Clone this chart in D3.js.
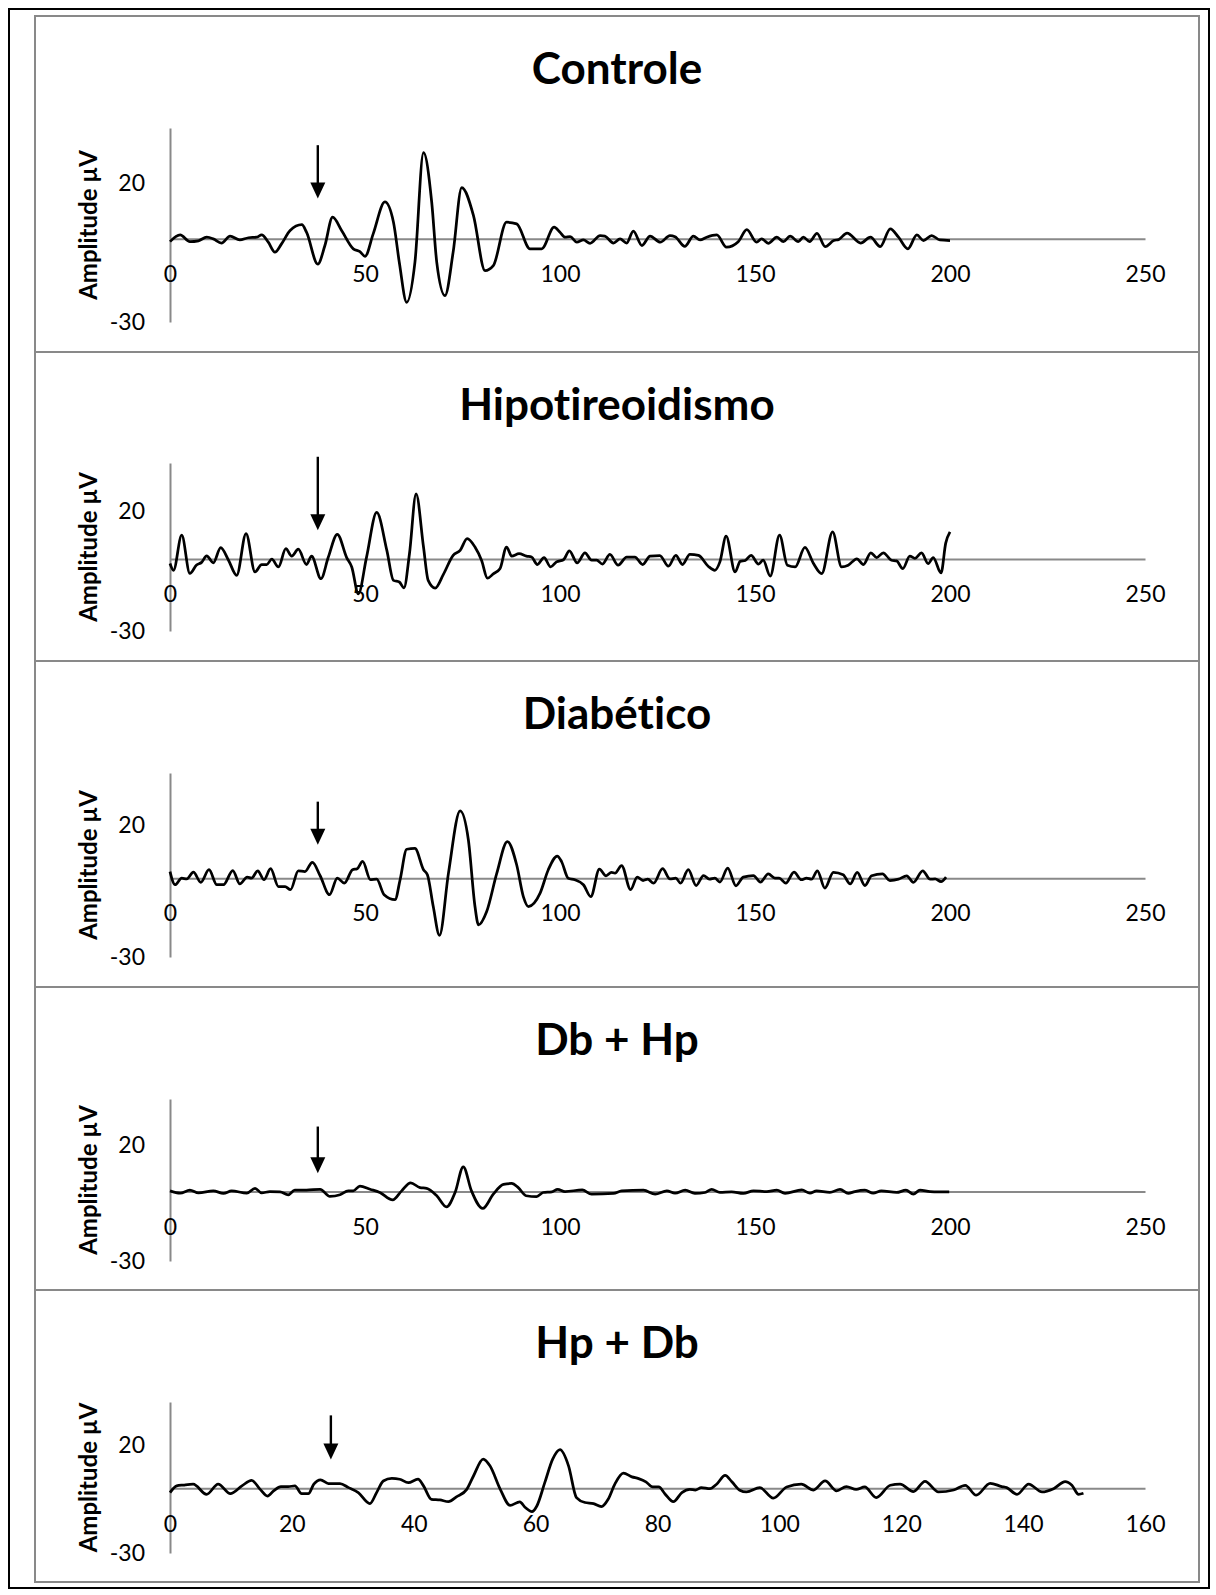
<!DOCTYPE html>
<html>
<head>
<meta charset="utf-8">
<script src="https://cdn.jsdelivr.net/npm/d3@7"></script>
<style>
	body { margin: 0; background: #fff; }
	text { font-family: Lato, 'Open Sans', sans-serif; font-variant-ligatures: none; font-feature-settings: 'liga' 0, 'clig' 0; }
</style>
</head>
<body>
<svg id="chart"></svg>
<script>
(function(d3){
	'use strict';

	// panel titles and axis ticks
	var titles = ['Controle', 'Hipotireoidismo', 'Diabético', 'Db + Hp', 'Hp + Db'];
	var xTicksLong = [0, 50, 100, 150, 200, 250];
	var xTicksShort = [0, 20, 40, 60, 80, 100, 120, 140, 160];
	var yTicks = [-30, 20];

	// traces: [time, amplitude µV]
	var controle = [[0,-1.0],[2.6,1.4],[5.1,-1.0],[7.3,-0.7],[9.4,0.6],[11.1,0],[13.2,-1.5],[15.4,1.0],[17.9,-0.4],[20.1,0.4],[22.2,0.6],[23.5,1.4],[25.2,-1.2],[26.9,-4.8],[28.6,-1.8],[30.8,3.0],[33.8,5.1],[35.0,2.4],[37.9,-9.1],[39.7,-2.5],[41.7,7.8],[44.0,3.0],[47.0,-3.6],[48.7,-4.6],[50.0,-6.3],[52.1,1.8],[55.1,13.3],[57.3,6.0],[58.8,-8.5],[60.7,-22.9],[62.8,-8.5],[65.0,31.1],[67.1,13.3],[68.4,-8.5],[70.5,-20.5],[72.6,-4.8],[74.8,18.5],[77.8,8.5],[80.8,-11.5],[82.9,-9.7],[86.3,6.0],[88.9,5.4],[92.3,-3.6],[95.3,-3.6],[98.5,4.2],[100.0,2.4],[101.3,0.6],[102.6,0.8],[104.3,-1.2],[106.0,-0.4],[107.7,-1.6],[110.3,1.2],[111.5,1.0],[113.7,-1.5],[115.4,0],[117.1,-1.5],[118.8,2.8],[121.0,-2.4],[123.1,1.0],[125.7,-1.2],[128.2,1.2],[129.5,0.8],[132.0,-2.7],[134.2,1.0],[135.9,-0.4],[137.6,0.6],[140.2,1.4],[142.7,-3.0],[145.7,-1.0],[147.9,3.3],[150.4,-1.2],[151.7,0],[153.4,-1.6],[155.6,0.6],[157.3,-1.0],[159.0,1.0],[161.1,-1.0],[162.4,0.6],[164.0,-1.0],[165.9,2.0],[168.0,-2.8],[170.2,-0.6],[171.5,-0.2],[173.6,2.1],[177.1,-1.5],[179.6,0.6],[182.1,-2.8],[184.7,3.6],[186.8,0.6],[189.2,-3.6],[191.5,1.4],[193.2,-0.6],[195.3,1.2],[197.4,-0.4],[200.0,-0.6]];
	var hipo = [[0,-1.9],[0.9,-4.7],[3.0,9.9],[5.1,-6.0],[6.8,-2.5],[8.1,-1.4],[9.4,1.3],[11.1,-1.6],[13.0,4.7],[15.0,-0.5],[17.1,-6.8],[19.5,10.6],[21.8,-5.4],[23.5,-2.3],[24.8,-2.3],[26.1,-0.1],[27.8,-3.3],[29.7,4.3],[31.2,1.2],[32.9,4.1],[35.0,-2.3],[36.3,1.2],[38.7,-8.2],[40.6,0.8],[42.9,10.3],[45.3,0.6],[46.6,-3.3],[48.3,-14.5],[50.4,0.8],[53.0,19.4],[55.6,3.6],[57.3,-8.9],[58.8,-9.6],[60.0,-12.0],[61.4,2.2],[63.1,27.1],[65.0,5.0],[66.2,-8.9],[68.0,-12.1],[70.1,-6.4],[72.6,1.5],[74.4,3.6],[76.2,8.5],[78.2,5.0],[79.9,-0.6],[81.4,-8.0],[82.9,-6.2],[84.6,-4.1],[86.3,5.0],[87.6,1.2],[89.5,2.2],[91.4,1.2],[92.7,0.8],[94.2,-2.3],[95.9,0.6],[97.6,-3.3],[99.1,-1.2],[100.9,-0.3],[102.4,3.4],[104.4,-1.6],[106.4,2.6],[108.1,-0.5],[109.4,-0.5],[110.9,-2.1],[112.8,1.9],[114.9,-2.6],[117.1,0.8],[119.2,0.8],[121.2,-2.3],[123.1,1.2],[125.6,1.4],[127.8,-3.0],[129.7,1.5],[131.4,-2.3],[133.3,1.9],[135.5,1.5],[138.0,-3.0],[139.7,-4.7],[141.0,-1.2],[142.6,9.5],[144.9,-5.4],[146.2,-1.0],[147.5,-0.6],[149.0,1.5],[150.9,-2.1],[152.1,-0.5],[153.9,-7.1],[156.3,9.9],[158.3,-2.6],[160.3,-3.3],[162.8,4.8],[165.0,-1.9],[167.1,-6.1],[169.9,11.3],[172.2,-3.3],[173.9,-2.6],[176.1,0.1],[177.8,-2.3],[179.7,2.6],[181.2,0.6],[182.9,2.6],[185.0,-0.5],[186.3,-0.8],[187.9,-4.0],[189.7,1.2],[191.0,0.3],[192.7,2.6],[194.4,-1.9],[195.7,0.6],[197.7,-5.8],[198.9,6.6],[200.0,11.3]];
	var diabetico = [[0,2.5],[1.3,-2.5],[3.0,0],[4.3,-0.3],[6.0,2.3],[7.9,-1.6],[10.0,3.2],[12.0,-2.5],[13.7,-2.5],[16.1,2.9],[17.9,-2.2],[19.8,0.4],[20.9,0],[22.5,2.8],[24.1,-0.6],[25.8,3.6],[27.8,-3.2],[29.5,-3.2],[30.9,-4.4],[32.9,2.8],[34.6,2.5],[36.5,6.0],[38.5,0.9],[40.9,-6.3],[42.9,0],[44.7,-1.9],[46.8,3.2],[48.0,3.6],[49.4,6.4],[51.4,-0.6],[53.0,-0.4],[54.9,-6.3],[57.7,-8.2],[59.0,-0.6],[60.7,11.0],[62.8,11.3],[65.0,3.2],[66.0,1.3],[67.5,-10.8],[69.1,-21.8],[71.4,1.9],[74.4,25.6],[76.5,14.6],[78.2,-10.8],[79.1,-17.8],[81.2,-12.7],[83.8,1.9],[86.5,13.9],[88.9,5.0],[90.6,-7.0],[91.9,-10.8],[94.9,-5.7],[97.0,3.2],[99.3,8.4],[100.4,6.3],[102.1,0],[103.8,-0.6],[106.0,-2.5],[107.9,-7.0],[110.1,3.4],[111.8,0.9],[113.2,2.2],[114.1,1.9],[115.8,4.8],[118.1,-4.4],[119.8,0.4],[121.3,-0.9],[122.5,-0.4],[124.0,-1.9],[126.3,3.6],[128.2,-0.3],[129.7,0],[130.9,-1.9],[132.9,3.2],[134.9,-2.8],[136.8,1.0],[138.3,-0.4],[139.7,0],[141.0,-1.5],[143.0,3.8],[145.1,-2.9],[147.0,0.4],[149.6,1.0],[151.4,-1.5],[153.4,1.6],[155.1,0],[156.2,0],[157.9,-1.9],[160.0,2.3],[161.9,-0.6],[163.2,0],[164.5,-0.4],[166.0,2.8],[167.9,-3.8],[170.1,2.2],[172.6,1.3],[174.4,-2.2],[176.2,2.2],[178.2,-2.8],[179.9,0.9],[182.7,1.6],[184.6,-0.9],[186.8,-0.4],[188.9,0.9],[190.6,-1.6],[193.0,2.8],[194.9,-0.4],[196.2,-0.3],[197.7,-1.3],[199.0,0.4]];
	var dbHp = [[0,0.3],[2.6,-0.7],[5.1,0.6],[7.3,-0.6],[11.1,0.3],[13.7,-0.8],[15.8,0.3],[19.7,-0.7],[21.8,1.4],[23.5,-0.6],[25.6,0],[28.2,-0.1],[30.3,-1.4],[32.0,0.6],[35.0,0.6],[38.5,1.0],[41.0,-2.1],[43.6,-1.4],[45.7,0.3],[47.0,0.3],[48.7,2.4],[51.3,1.0],[53.8,-0.4],[57.1,-3.6],[59.4,0.3],[61.7,3.8],[64.1,1.7],[65.8,1.4],[68.4,-1.8],[70.9,-6.6],[73.1,-0.4],[75.2,10.7],[77.3,0.3],[80.2,-7.3],[82.9,-1.1],[85.5,3.1],[87.6,3.5],[89.3,1.7],[91.3,-1.8],[94.0,-2.2],[95.7,-0.4],[97.9,-0.1],[99.4,1.0],[101.3,0],[105.7,0.7],[108.1,-1.1],[113.7,-0.8],[115.8,0.3],[121.4,0.6],[124.4,-1.1],[127.4,0.3],[129.5,-0.7],[132.1,0.6],[134.6,-0.8],[137.2,-0.4],[138.9,1.0],[141.0,-0.4],[144.0,-0.1],[147.0,-0.8],[149.6,0.3],[153.0,0],[155.6,0.6],[157.7,-0.8],[162.0,0.7],[164.1,-0.7],[165.8,0.3],[169.2,-0.4],[171.8,1.0],[173.9,-0.8],[175.6,0],[178.2,0.6],[180.3,-0.7],[182.4,0.3],[186.3,-0.4],[188.7,0.6],[190.6,-1.1],[192.3,0.6],[194.9,0],[197.0,-0.1],[199.8,-0.1]];
	var hpDb = [[0,-2.0],[1.1,1.1],[2.2,1.5],[3.8,1.9],[6.0,-2.8],[7.9,1.9],[9.9,-2.5],[11.8,1.1],[13.4,3.7],[14.8,-0.5],[16.0,-3.6],[17.0,-1.2],[18.2,0.8],[19.4,0.8],[20.5,1.1],[21.6,-2.5],[22.7,-2.5],[23.6,1.9],[24.7,3.9],[26.0,2.2],[27.9,2.2],[29.3,0.3],[30.9,-2.0],[32.8,-7.1],[33.9,-2.0],[35.0,3.4],[36.4,4.6],[37.7,4.2],[39.1,2.6],[40.7,4.2],[41.6,1.1],[42.9,-5.1],[44.3,-5.4],[45.7,-6.2],[47.0,-4.0],[48.7,-0.5],[49.8,5.7],[51.4,13.5],[52.5,10.4],[54.2,-0.5],[55.8,-7.9],[57.4,-6.3],[58.3,-8.9],[59.4,-10.8],[60.2,-8.2],[61.5,2.6],[62.8,13.5],[64.0,17.9],[65.4,10.4],[66.7,-4.3],[68.1,-6.6],[69.5,-7.1],[70.8,-8.5],[71.9,-5.1],[73.0,1.9],[74.4,7.0],[75.8,5.3],[76.9,4.5],[78.1,3.0],[79.2,0.6],[80.2,0.6],[81.2,-2.5],[82.6,-6.2],[84.0,-2.0],[85.3,-0.5],[86.2,-0.8],[87.2,0.3],[88.6,-0.2],[89.7,1.9],[91.1,6.0],[92.2,3.0],[93.5,-0.9],[94.6,-1.7],[96.8,0.3],[99.0,-4.6],[101.2,0.6],[103.6,1.9],[105.6,-0.8],[107.5,3.4],[109.4,-1.2],[111.0,0.8],[112.6,-0.5],[114.0,0.6],[115.9,-4.3],[118.2,1.4],[119.8,1.9],[122.0,-1.5],[123.9,3.2],[126.1,-1.7],[128.6,-0.8],[130.5,1.4],[132.3,-3.2],[134.6,2.3],[136.5,0.8],[137.3,0.3],[139.0,-2.8],[140.9,1.9],[143.1,-1.7],[145.0,-0.2],[146.9,3.1],[148.0,1.4],[149.1,-2.8],[149.9,-2.3]];

	// arrow markers: time, start amplitude, tip amplitude
	var arrowX = [37.9, 37.9, 37.9, 37.9, 26.4];
	var arrowFrom = [33.8, 42.6, 29.1, 28.1, 33.8];
	var arrowTo = [14.6, 12.0, 12.7, 7.9, 13.4];

	var series = [controle, hipo, diabetico, dbHp, hpDb];
	var xMax = [250, 250, 250, 250, 160];

	// layout
	var W = 1216, H = 1595;
	var panelEdges = [16, 352, 661, 987, 1290, 1582];
	var plotBox = [[128, 322], [463, 631], [773, 957], [1099, 1261], [1402, 1553]];
	var left = 170, right = 1145;
	var gray = '#898989';

	var svg = d3.select('#chart')
		.attr('width', W)
		.attr('height', H);
	svg.append('rect')
		.attr('width', W)
		.attr('height', H)
		.attr('fill', '#fff');

	var line = d3.line().curve(d3.curveMonotoneX);

	series.forEach(function (data, i) {
		var g = svg.append('g');
		var top = panelEdges[i], bottom = panelEdges[i + 1];

		g.append('rect')
			.attr('x', 35)
			.attr('y', top)
			.attr('width', 1164)
			.attr('height', bottom - top)
			.attr('fill', '#fff')
			.attr('stroke', gray)
			.attr('stroke-width', 2);

		g.append('text')
			.attr('x', 617)
			.attr('y', top + 52)
			.attr('dy', '0.36em')
			.attr('text-anchor', 'middle')
			.style('font-size', '44px')
			.style('font-weight', 'bold')
			.text(titles[i]);

		var x = d3.scaleLinear()
			.domain([0, xMax[i]])
			.range([left, right]);
		var y = d3.scaleLinear()
			.domain([-30, 40])
			.range([plotBox[i][1], plotBox[i][0]]);

		var plain = function (d) { return String(d); };
		// y-axis
		var yAxis = g.append('g')
			.attr('transform', 'translate(' + left + ',0)')
			.call(d3.axisLeft(y).tickValues(yTicks).tickFormat(plain).tickSize(0).tickPadding(25));
		// x-axis through zero
		var xAxis = g.append('g')
			.attr('transform', 'translate(0,' + y(0) + ')')
			.call(d3.axisBottom(x).tickValues(xMax[i] === 250 ? xTicksLong : xTicksShort).tickFormat(plain).tickSize(0).tickPadding(27));
		[yAxis, xAxis].forEach(function (a) {
			a.select('.domain').attr('stroke', gray).attr('stroke-width', 2);
			a.selectAll('text')
				.attr('fill', '#000')
				.style('font-size', '23px')
				.style('font-family', 'Lato, sans-serif');
		});

		g.append('text')
			.attr('transform', 'translate(88,' + (plotBox[i][0] + plotBox[i][1]) / 2 + ') rotate(-90)')
			.attr('text-anchor', 'middle')
			.attr('dy', '0.36em')
			.style('font-size', '24px')
			.style('font-weight', 'bold')
			.text('Amplitude µV');

		g.append('path')
			.datum(data)
			.attr('fill', 'none')
			.attr('stroke', '#000')
			.attr('stroke-width', 2.75)
			.attr('stroke-linejoin', 'round')
			.attr('d', line.x(function (d) { return x(d[0]); }).y(function (d) { return y(d[1]); }));

		// arrow
		var ax = x(arrowX[i]), tip = y(arrowTo[i]);
		g.append('line')
			.attr('x1', ax).attr('x2', ax)
			.attr('y1', y(arrowFrom[i]))
			.attr('y2', tip - 14)
			.attr('stroke', '#000')
			.attr('stroke-width', 2.4);
		g.append('path')
			.attr('d', 'M' + (ax - 7.5) + ',' + (tip - 16) + 'L' + (ax + 7.5) + ',' + (tip - 16) + 'L' + ax + ',' + tip + 'Z')
			.attr('fill', '#000');
	});

	// outer frame
	svg.append('rect')
		.attr('x', 9)
		.attr('y', 9)
		.attr('width', 1200)
		.attr('height', 1579)
		.attr('fill', 'none')
		.attr('stroke', '#000')
		.attr('stroke-width', 2);
})(d3);
</script>
</body>
</html>
